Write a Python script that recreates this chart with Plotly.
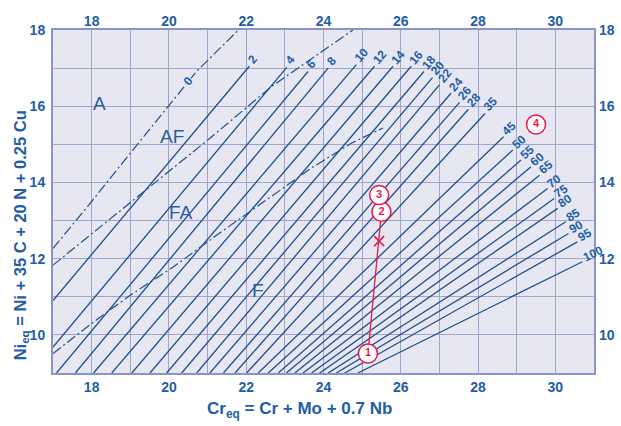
import math
import plotly.graph_objects as go

# ---------------- data ----------------
fn_labels = ["2", "4", "6", "8", "10", "12", "14", "16", "18", "20", "22", "24", "26", "28",
             "35", "45", "50", "55", "60", "65", "70", "75", "80", "85", "90", "95", "100"]
fn_start_x = [17.0, 17.0, 17.09, 17.58, 18.05, 18.52, 19.04, 19.51, 19.94, 20.33, 20.72, 21.06, 21.41, 21.71,
              22.01, 22.31, 22.57, 22.83, 23.04, 23.26, 23.47, 23.69, 23.90, 24.12, 24.33, 24.55, 24.89]
fn_start_y = [10.9, 9.68] + [9.0] * 25
fn_end_x = [22.08, 23.05, 23.60, 24.12, 24.85, 25.32, 25.80, 26.27, 26.60, 26.82, 27.00, 27.30, 27.52, 27.75,
            28.18, 28.66, 28.90, 29.11, 29.37, 29.59, 29.80, 29.97, 30.06, 30.27, 30.34, 30.57, 30.70]
fn_end_y = [17.05, 17.02, 16.91, 17.00, 17.09, 17.05, 17.05, 17.05, 16.91, 16.75, 16.56, 16.34, 16.10, 15.92,
            15.81, 15.20, 14.85, 14.59, 14.41, 14.19, 13.84, 13.58, 13.32, 12.97, 12.66, 12.44, 11.92]

# phase boundaries (dash-dot)
a_af_x = [17.0, 18.0, 19.0, 19.94, 20.72, 21.8]
a_af_y = [12.27, 13.5, 14.77, 15.95, 16.92, 18.0]
af_fa_x = [17.0, 19.25, 21.06, 22.66, 24.76]
af_fa_y = [11.83, 13.67, 15.16, 16.52, 18.0]
fa_f_x = [17.0, 18.05, 19.0, 20.11, 21.24, 22.48, 23.69, 24.72, 25.54]
fa_f_y = [9.51, 10.34, 11.04, 11.78, 12.62, 13.5, 14.38, 15.03, 15.43]

zero_label_xy = (20.5, 16.65)

region_names = ["A", "AF", "FA", "F"]
region_x = [18.2, 20.07, 20.31, 22.31]
region_y = [16.08, 15.21, 13.21, 11.17]

# weld points
pt_labels = ["1", "2", "3", "4"]
pt_x = [25.15, 25.50, 25.44, 29.50]
pt_y = [9.51, 13.23, 13.67, 15.52]
mix_x = [25.44]
mix_y = [12.46]

x_ticks = [18, 20, 22, 24, 26, 28, 30]
y_ticks = [10, 12, 14, 16, 18]

# ---------------- style ----------------
W, H = 621, 426
ML, MR, MT, MB = 53, 27, 30, 53
XR = [17, 31]
YR = [9, 18]
LINE_C = "#1d4f8e"
TEXT_C = "#1f5ea7"
GRID_C = "#9ea6d0"
BG_C = "#e7e7f2"
RED = "#e5194b"
FONT = "Liberation Sans, Arial, sans-serif"

px_per_x = (W - ML - MR) / (XR[1] - XR[0])
px_per_y = (H - MT - MB) / (YR[1] - YR[0])

fig = go.Figure()

# iso-ferrite lines
for lab, x0, y0, x1, y1 in zip(fn_labels, fn_start_x, fn_start_y, fn_end_x, fn_end_y):
    fig.add_trace(go.Scatter(x=[x0, x1], y=[y0, y1], mode="lines",
                             line=dict(color=LINE_C, width=1.3), hoverinfo="skip", showlegend=False))

# boundaries
dash_pat = "10px,3px,2px,3px"
for bx, by in [(a_af_x, a_af_y), (af_fa_x, af_fa_y), (fa_f_x, fa_f_y)]:
    fig.add_trace(go.Scatter(x=bx, y=by, mode="lines",
                             line=dict(color=LINE_C, width=1.2, dash=dash_pat),
                             hoverinfo="skip", showlegend=False))

# red path 1 -> 2 with mixture mark
fig.add_trace(go.Scatter(x=[pt_x[0], pt_x[1]], y=[pt_y[0], pt_y[1]], mode="lines",
                         line=dict(color=RED, width=1.3), hoverinfo="skip", showlegend=False))
fig.add_trace(go.Scatter(x=mix_x, y=mix_y, mode="markers",
                         marker=dict(symbol="x-thin", size=10, line=dict(color=RED, width=1.5)),
                         hoverinfo="skip", showlegend=False))
fig.add_trace(go.Scatter(x=pt_x, y=pt_y, mode="markers+text", text=pt_labels,
                         textposition="middle center",
                         textfont=dict(color=RED, size=11, family=FONT, weight="bold"),
                         marker=dict(size=19, color="white", line=dict(color=RED, width=1.5)),
                         hoverinfo="skip", showlegend=False))

# invisible trace for secondary axes
fig.add_trace(go.Scatter(x=[XR[0]], y=[YR[0]], xaxis="x2", yaxis="y2", mode="markers",
                         marker=dict(opacity=0), hoverinfo="skip", showlegend=False))

annotations = []
# FN labels
for lab, x0, y0, x1, y1 in zip(fn_labels, fn_start_x, fn_start_y, fn_end_x, fn_end_y):
    dxp = (x1 - x0) * px_per_x
    dyp = (y1 - y0) * px_per_y
    ang = math.atan2(dyp, dxp)
    d = 4 + 2.8 * len(lab)
    annotations.append(dict(x=x1, y=y1, xref="x", yref="y", text=lab, showarrow=False,
                            textangle=-math.degrees(ang),
                            xshift=d * math.cos(ang) - 1, yshift=d * math.sin(ang) + 2,
                            font=dict(color=TEXT_C, size=12, family=FONT, weight="bold")))
# zero label with gap
annotations.append(dict(x=zero_label_xy[0], y=zero_label_xy[1], xref="x", yref="y", text="0",
                        showarrow=False, textangle=-50, bgcolor=BG_C, borderpad=0,
                        font=dict(color=TEXT_C, size=12, family=FONT, weight="bold")))
# region names
for n, x, y in zip(region_names, region_x, region_y):
    annotations.append(dict(x=x, y=y, xref="x", yref="y", text=n, showarrow=False,
                            font=dict(color="#2a5d9e", size=19, family=FONT)))
# axis titles
annotations.append(dict(x=0.455, y=-0.108, xref="paper", yref="paper", showarrow=False,
                        xanchor="center", yanchor="middle",
                        text="Cr<sub>eq</sub> = Cr + Mo + 0.7 Nb",
                        font=dict(color=TEXT_C, size=17, family=FONT, weight="bold")))
annotations.append(dict(x=-0.060, y=0.40, xref="paper", yref="paper", showarrow=False, textangle=-90,
                        xanchor="center", yanchor="middle",
                        text="Ni<sub>eq</sub> = Ni + 35 C + 20 N + 0.25 Cu",
                        font=dict(color=TEXT_C, size=16.5, family=FONT, weight="bold")))

tickfont = dict(color=TEXT_C, size=14, family=FONT, weight="bold")
grid_minor = dict(dtick=1, showgrid=True, gridcolor=GRID_C, gridwidth=1.2, ticks="")

fig.update_layout(
    width=W, height=H,
    margin=dict(l=ML, r=MR, t=MT, b=MB, autoexpand=False),
    paper_bgcolor="white", plot_bgcolor=BG_C,
    showlegend=False,
    annotations=annotations,
    xaxis=dict(range=XR, tickvals=x_ticks, showgrid=True, gridcolor=GRID_C, gridwidth=1.2,
               minor=dict(tick0=17, **grid_minor), zeroline=False, automargin=False,
               showline=True, linecolor="#8a94c6", linewidth=2, mirror=True,
               tickfont=tickfont, ticks="", ticklabelstandoff=0),
    yaxis=dict(range=YR, tickvals=y_ticks, showgrid=True, gridcolor=GRID_C, gridwidth=1.2,
               minor=dict(tick0=9, **grid_minor), zeroline=False, automargin=False,
               showline=True, linecolor="#8a94c6", linewidth=2, mirror=True,
               tickfont=tickfont, ticks="", ticklabelstandoff=3),
    xaxis2=dict(range=XR, overlaying="x", side="top", matches="x", tickvals=x_ticks, automargin=False,
                showgrid=False, zeroline=False, tickfont=tickfont, ticks="", ticklabelstandoff=0),
    yaxis2=dict(range=YR, overlaying="y", side="right", matches="y", tickvals=y_ticks, automargin=False,
                showgrid=False, zeroline=False, tickfont=tickfont, ticks="", ticklabelstandoff=4),
)

fig.write_html("out.html", config={"displayModeBar": False},
               post_script="document.body.style.margin='0';")
